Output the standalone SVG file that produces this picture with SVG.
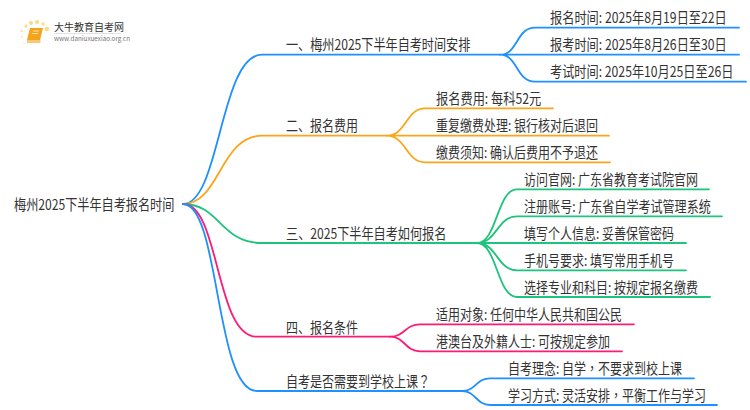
<svg xmlns="http://www.w3.org/2000/svg" width="750" height="410" viewBox="0 0 750 410">
<style>
text{font-family:"Noto Sans CJK SC","Noto Sans",sans-serif;font-size:15px;fill:#333}
.tc{font-family:"Noto Sans CJK TC","Noto Sans",sans-serif}
.c{fill:none;stroke-width:1.8;stroke-linecap:round}
.b{stroke:#1e90ff}.o{stroke:#f9a61a}.g{stroke:#1cc47c}.p{stroke:#ff1a75}
.d{fill:#ffd980}
</style>
<rect width="750" height="410" fill="#fff"/>
<g id="logo">
<circle cx="47" cy="29" r="2.3" class="d"/><circle cx="43" cy="24" r="1.8" class="d" opacity=".9"/><circle cx="37" cy="22" r="2" class="d"/><circle cx="31" cy="23" r="2" class="d"/><circle cx="26" cy="26" r="1.5" class="d"/><circle cx="22" cy="31" r="1.3" class="d" opacity=".7"/><circle cx="22" cy="37" r="1" class="d" opacity=".6"/><circle cx="24" cy="43" r="1" class="d" opacity=".4"/>
<path d="M30 28h13l-3 12h-13z" fill="#f7a21b"/><path d="M27 40h13l1 1.500-1 1.500h-13z" fill="#f9c77a"/><path d="M33 31h6M32 33.500h6" stroke="#fde3b0" stroke-width="1"/>
<text transform="translate(54 31)" style="font-size:10px;fill:#333">大牛教育自考网</text>
<path d="M54 33.500h67" stroke="#ccc" stroke-width=".6"/>
<text transform="translate(54 41)" style="font-size:6.300px;fill:#777">www.daniuxuexiao.org.cn</text>
</g>
<g id="connectors">
<path class="c b" d="M183 204C220 204 220 54.700 262 54.700H500"/>
<path class="c o" d="M183 204C220 204 220 135.700 262 135.700H387"/>
<path class="c g" d="M183 204C220 204 220 243 262 243H477"/>
<path class="c p" d="M183 204C220 204 215 336.700 257 336.700H390"/>
<path class="c b" d="M183 204C220 204 215 391 257 391H462"/>
<path class="c b" d="M500 54.700C518 54.700 516 27.700 535 27.700H739M500 54.700H739M500 54.700C518 54.700 516 81.700 535 81.700H746"/>
<path class="c o" d="M387 135.700C406 135.700 406 108.300 425 108.300H553M387 135.700H609M387 135.700C406 135.700 406 162.300 425 162.300H610"/>
<path class="c g" d="M477 243C497 243 497 189.300 517 189.300H709M477 243C497 243 497 216.300 517 216.300H722M477 243H686M477 243C497 243 497 270.300 517 270.300H686M477 243C497 243 497 297 517 297H710"/>
<path class="c p" d="M390 336.700C405 336.700 405 324.300 420 324.300H634M390 336.700C405 336.700 405 351.300 420 351.300H622"/>
<path class="c b" d="M462 391C476 391 476 378.300 490 378.300H694M462 391C476 391 476 405 490 405H717"/>
</g>
<g id="root"><text transform="translate(14 210) scale(.81 1)">梅州2025下半年自考报名时间</text></g>
<g id="n1"><text transform="translate(286 50) scale(.808 1)">一、梅州2025下半年自考时间安排</text></g>
<g id="n1a"><text transform="translate(550 23) scale(.814 1)">报名时间: 2025年8月19日至22日</text></g>
<g id="n1b"><text transform="translate(550 50) scale(.814 1)">报考时间: 2025年8月26日至30日</text></g>
<g id="n1c"><text transform="translate(550 77) scale(.813 1)">考试时间: 2025年10月25日至26日</text></g>
<g id="n2"><text transform="translate(286 131) scale(.8 1)">二、报名费用</text></g>
<g id="n2a"><text transform="translate(436 104) scale(.815 1)">报名费用: 每科52元</text></g>
<g id="n2b"><text transform="translate(436 131) scale(.8 1)">重复缴费处理: 银行核对后退回</text></g>
<g id="n2c"><text transform="translate(436 158) scale(.8 1)">缴费须知: 确认后费用不予退还</text></g>
<g id="n3"><text transform="translate(286 239) scale(.81 1)">三、2025下半年自考如何报名</text></g>
<g id="n3a"><text transform="translate(524 185) scale(.8 1)">访问官网: 广东省教育考试院官网</text></g>
<g id="n3b"><text transform="translate(524 212) scale(.804 1)">注册账号: 广东省自学考试管理系统</text></g>
<g id="n3c"><text transform="translate(524 239) scale(.8 1)">填写个人信息: 妥善保管密码</text></g>
<g id="n3d"><text transform="translate(524 266) scale(.8 1)">手机号要求: 填写常用手机号</text></g>
<g id="n3e"><text transform="translate(524 293) scale(.8 1)">选择专业和科目: 按规定报名缴费</text></g>
<g id="n4"><text transform="translate(286 333) scale(.8 1)">四、报名条件</text></g>
<g id="n4a"><text transform="translate(436 320) scale(.8 1)">适用对象: 任何中华人民共和国公民</text></g>
<g id="n4b"><text transform="translate(436 347) scale(.8 1)">港澳台及外籍人士: 可按规定参加</text></g>
<g id="n5"><text class="tc" transform="translate(286 387) scale(.8 1)">自考是否需要到学校上课？</text></g>
<g id="n5a"><text class="tc" transform="translate(508 374) scale(.8 1)">自考理念: 自学，不要求到校上课</text></g>
<g id="n5b"><text class="tc" transform="translate(508 401) scale(.8 1)">学习方式: 灵活安排，平衡工作与学习</text></g>
</svg>
